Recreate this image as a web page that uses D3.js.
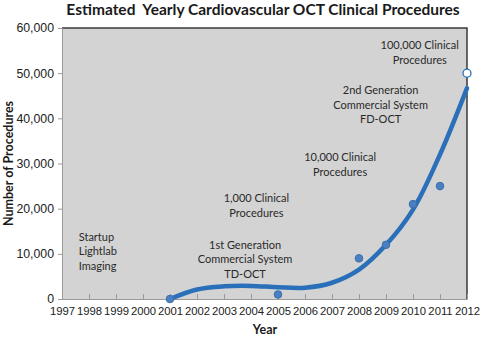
<!DOCTYPE html>
<html>
<head>
<meta charset="utf-8">
<script src="https://cdn.jsdelivr.net/npm/d3@7"></script>
<style>
  body { margin: 0; background: #fff; }
  svg { display: block; font-family: Lato, "Open Sans", sans-serif; }
</style>
</head>
<body>
<svg id="chart" width="482" height="337"></svg>
<script>
// observed yearly procedures (last point is the projected one)
const years = [2001, 2005, 2008, 2009, 2010, 2011];
const procedures = [0, 1000, 9000, 12000, 21000, 25000];
const projectedYear = 2012;
const projectedValue = 50000;

// trend curve
const trendYears = [2001, 2002, 2003, 2004, 2005, 2006, 2007, 2008, 2009, 2010, 2011, 2012];
const trendValues = [0, 2100, 2800, 2900, 2600, 2500, 3600, 6500, 12000, 19800, 32000, 46700];

const yTicks = [0, 10000, 20000, 30000, 40000, 50000, 60000];
const xTicks = d3.range(1997, 2013);

const notes = [
  { year: 1997.62, value: 13950, anchor: "start", lines: ["Startup", "Lightlab", "Imaging"] },
  { year: 2003.78, value: 12180, anchor: "middle", lines: ["1st Generation", "Commercial System", "TD-OCT"] },
  { year: 2004.2, value: 22580, anchor: "middle", lines: ["1,000 Clinical", "Procedures"] },
  { year: 2007.3, value: 31660, anchor: "middle", lines: ["10,000 Clinical", "Procedures"] },
  { year: 2008.8, value: 46490, anchor: "middle", lines: ["2nd Generation", "Commercial System", "FD-OCT"] },
  { year: 2010.25, value: 56450, anchor: "middle", lines: ["100,000 Clinical", "Procedures"] }
];

const W = 482, H = 337;
const margin = { top: 28, right: 15, bottom: 38, left: 62 };
const svg = d3.select("#chart");

const x = d3.scaleLinear().domain([1997, 2012]).range([margin.left, W - margin.right]);
const y = d3.scaleLinear().domain([0, 60000]).range([H - margin.bottom, margin.top]);

// plot background
svg.append("rect")
  .attr("x", x(1997)).attr("y", y(60000))
  .attr("width", x(2012) - x(1997)).attr("height", y(0) - y(60000))
  .attr("fill", "#d3d3d3");

// dark frame on top and right
svg.append("path")
  .attr("d", `M${x(1997)},${y(60000)}H${x(2012)}V${y(0)}`)
  .attr("fill", "none").attr("stroke", "#3a3a3a").attr("stroke-width", 1.5);

// y axis
const yAxis = svg.append("g")
  .attr("transform", `translate(${x(1997)},0)`)
  .call(d3.axisLeft(y).tickValues(yTicks).tickSize(4).tickPadding(4)
    .tickFormat(d3.format(",")));
yAxis.select(".domain").attr("stroke", "#9a9a9a");
yAxis.selectAll(".tick line").attr("stroke", "#9a9a9a");
yAxis.selectAll("text").attr("font-size", 12.3).attr("fill", "#222");

// x axis, ticks pointing into the plot
const xAxis = svg.append("g")
  .attr("transform", `translate(0,${y(0)})`)
  .call(d3.axisBottom(x).tickValues(xTicks).tickSize(-5).tickPadding(8)
    .tickFormat(d3.format("d")));
xAxis.select(".domain").attr("stroke", "#9a9a9a");
xAxis.selectAll(".tick line").attr("stroke", "#9a9a9a");
xAxis.selectAll("text").attr("font-size", 11.3).attr("fill", "#222");

// annotations
const noteG = svg.append("g").attr("fill", "#2a2a2a").attr("font-size", 11);
notes.forEach(n => {
  const t = noteG.append("text")
    .attr("x", x(n.year)).attr("y", y(n.value))
    .attr("text-anchor", n.anchor)
    .attr("dominant-baseline", "central");
  n.lines.forEach((l, i) => {
    t.append("tspan").attr("x", x(n.year)).attr("dy", i === 0 ? 0 : 14.5).text(l);
  });
});

// trend line
const line = d3.line()
  .x((d, i) => x(trendYears[i]))
  .y(d => y(d))
  .curve(d3.curveCatmullRom.alpha(0.5));
svg.append("path")
  .datum(trendValues)
  .attr("d", line)
  .attr("fill", "none")
  .attr("stroke", "#2a6fb9")
  .attr("stroke-width", 4.5)
  .attr("stroke-linecap", "round");

// data markers
svg.append("g").selectAll("circle")
  .data(procedures)
  .join("circle")
  .attr("cx", (d, i) => x(years[i]))
  .attr("cy", d => y(d))
  .attr("r", 3.8)
  .attr("fill", "#4a7fc0")
  .attr("stroke", "#3b6eae")
  .attr("stroke-width", 1);

svg.append("circle")
  .attr("cx", x(projectedYear)).attr("cy", y(projectedValue))
  .attr("r", 4)
  .attr("fill", "#fff")
  .attr("stroke", "#2a6fb9")
  .attr("stroke-width", 1.3);

// titles
svg.append("text")
  .attr("x", 263).attr("y", 15)
  .attr("text-anchor", "middle")
  .attr("font-size", 15.5).attr("font-weight", "bold").attr("fill", "#1a1a1a")
  .style("white-space", "pre")
  .text("Estimated  Yearly Cardiovascular OCT Clinical Procedures");

svg.append("text")
  .attr("x", 265).attr("y", 334)
  .attr("text-anchor", "middle")
  .attr("font-size", 12.5).attr("font-weight", "bold").attr("fill", "#1a1a1a")
  .text("Year");

svg.append("text")
  .attr("transform", `translate(13,${(y(0) + y(60000)) / 2}) rotate(-90)`)
  .attr("text-anchor", "middle")
  .attr("font-size", 12.5).attr("font-weight", "bold").attr("fill", "#1a1a1a")
  .text("Number of Procedures");
</script>
</body>
</html>
